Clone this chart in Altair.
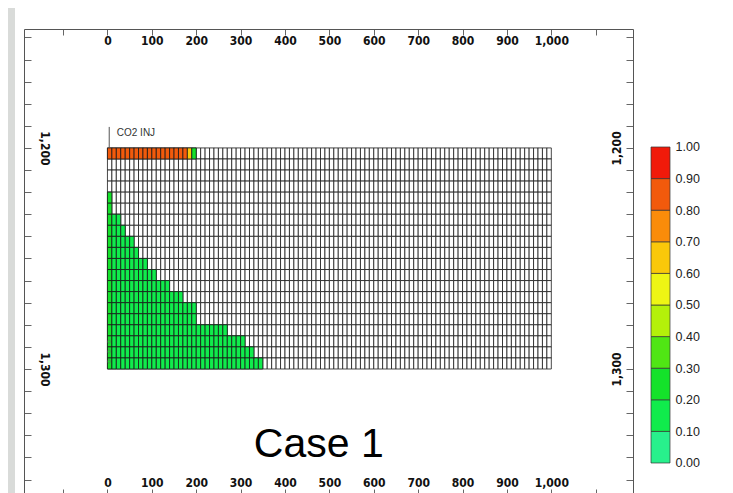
import altair as alt
import pandas as pd

# ---------------- data ----------------
# grid: 100 columns x 20 layers, 10 m wide and 5 m thick, top at 1200 m
col_width = 10
n_cols = 100
layer_thickness = 5
n_rows = 20
top_depth = 1200

# saturation classes of the colour bar (low -> high)
bin_lows = [0.0, 0.1, 0.2, 0.3, 0.4, 0.5, 0.6, 0.7, 0.8, 0.9]
bin_highs = [0.1, 0.2, 0.3, 0.4, 0.5, 0.6, 0.7, 0.8, 0.9, 1.0]
bin_colors = ["#28f08c", "#10ec4c", "#14e22a", "#50e614", "#b4f00a",
              "#eef514", "#fac80a", "#fa8c0a", "#f25a0c", "#f01a0a"]
legend_labels = [0.0, 0.1, 0.2, 0.3, 0.4, 0.5, 0.6, 0.7, 0.8, 0.9, 1.0]

# top layer (CO2 injection layer): value of the first 20 cells
top_layer_values = [0.85, 0.85, 0.85, 0.85, 0.85, 0.85, 0.85, 0.85, 0.85, 0.85,
                    0.85, 0.85, 0.85, 0.85, 0.85, 0.85, 0.85, 0.85, 0.65, 0.25]
# number of coloured (green) cells from the left in each layer (layer 0 = top)
green_cells_per_layer = [0, 0, 0, 0, 1, 1, 3, 4, 6, 7,
                         9, 11, 14, 17, 20, 20, 27, 31, 33, 35]
green_value = 0.15
edge_value = 0.25      # first column is a slightly darker green

# annotations
well_x = 4
well_top = 1190.5
well_label = "CO2 INJ"
perf_depths = [1287.6, 1292.1, 1296.6]
case_label = "Case 1"

x_ticks = list(range(-100, 1101, 100))
y_ticks = list(range(1150, 1351, 10))

# ---------------- tables ----------------
cells = []
for r in range(n_rows):
    for c in range(n_cols):
        cells.append({"x0": c * col_width, "x1": (c + 1) * col_width,
                      "z0": top_depth + r * layer_thickness,
                      "z1": top_depth + (r + 1) * layer_thickness})
cells_df = pd.DataFrame(cells)

colored = []
for c, v in enumerate(top_layer_values):
    colored.append({"x0": c * col_width, "x1": (c + 1) * col_width,
                    "z0": top_depth, "z1": top_depth + layer_thickness, "sat": v})
for r, n in enumerate(green_cells_per_layer):
    if r == 0:
        continue
    for c in range(n):
        colored.append({"x0": c * col_width, "x1": (c + 1) * col_width,
                        "z0": top_depth + r * layer_thickness,
                        "z1": top_depth + (r + 1) * layer_thickness,
                        "sat": edge_value if c == 0 else green_value})
colored_df = pd.DataFrame(colored)

legend_df = pd.DataFrame({"lo": bin_lows, "hi": bin_highs, "color": bin_colors})

# ---------------- scales / axes ----------------
W, H = 609, 466
xs = alt.Scale(domain=[-188, 1184], nice=False, zero=False)
ys = alt.Scale(domain=[1146.2, 1357], reverse=True, nice=False, zero=False)
cs = alt.Scale(type="threshold", domain=bin_lows[1:], range=bin_colors)

LAB_FONT = "Liberation Sans Narrow, Arial Narrow, DejaVu Sans Condensed, sans-serif"
common = dict(grid=False, title=None, tickColor="#666", domainColor="#555",
              labelFont=LAB_FONT, labelFontSize=12, labelFontWeight="bold",
              labelColor="#111", labelOverlap=False, labelFlush=False,
              tickWidth=1, domainWidth=1)

x_lab = "datum.value >= 0 && datum.value <= 1000 ? format(datum.value, ',') : ''"
y_lab = "(datum.value == 1200 || datum.value == 1300) ? format(datum.value, ',') : ''"

top_axis = alt.Axis(orient="bottom", offset=-H, values=x_ticks, labelExpr=x_lab,
                    tickSize=6, labelPadding=0, **common)
bottom_axis = alt.Axis(orient="top", offset=-H, values=x_ticks, labelExpr=x_lab,
                       tickSize=6, labelPadding=0, **common)
left_axis = alt.Axis(orient="right", offset=-W, values=y_ticks, labelExpr=y_lab,
                     labelAngle=90, labelAlign="center", labelBaseline="bottom",
                     tickSize=7, labelPadding=6, **common)
right_axis = alt.Axis(orient="left", offset=-W, values=y_ticks, labelExpr=y_lab,
                      labelAngle=270, labelAlign="center", labelBaseline="bottom",
                      tickSize=7, labelPadding=3, **common)

# ---------------- layers ----------------
strip = alt.Chart(pd.DataFrame({"a": [0]})).mark_rect(color="#d9dbd9").encode(
    x=alt.value(-16), x2=alt.value(-9), y=alt.value(-21), y2=alt.value(480))

grid_layer = alt.Chart(cells_df).mark_rect(
    fill="white", stroke="#1a1a1a", strokeWidth=0.8).encode(
    x=alt.X("x0:Q", scale=xs, axis=top_axis), x2="x1:Q",
    y=alt.Y("z0:Q", scale=ys, axis=left_axis), y2="z1:Q")

color_layer = alt.Chart(colored_df).mark_rect(
    stroke="#1a1a1a", strokeWidth=0.8).encode(
    x=alt.X("x0:Q", scale=xs, axis=bottom_axis), x2="x1:Q",
    y=alt.Y("z0:Q", scale=ys, axis=right_axis), y2="z1:Q",
    fill=alt.Fill("sat:Q", scale=cs, legend=None))

well = alt.Chart(pd.DataFrame({"x": [well_x], "z0": [well_top], "z1": [top_depth]})).mark_rule(
    color="#555", strokeWidth=1).encode(
    x=alt.X("x:Q", scale=xs, axis=None),
    y=alt.Y("z0:Q", scale=ys, axis=None), y2="z1:Q")

well_text = alt.Chart(pd.DataFrame({"x": [21], "z": [1193.2], "t": [well_label]})).mark_text(
    align="left", baseline="middle", font="Liberation Sans, Arial, sans-serif",
    fontSize=10, color="#333").encode(
    x=alt.X("x:Q", scale=xs, axis=None), y=alt.Y("z:Q", scale=ys, axis=None), text="t:N")

perfs = alt.Chart(pd.DataFrame({"x": [3.4] * len(perf_depths), "z": perf_depths})).mark_point(
    shape="circle", size=9, filled=False, color="#666", strokeWidth=0.8).encode(
    x=alt.X("x:Q", scale=xs, axis=None), y=alt.Y("z:Q", scale=ys, axis=None))

case_text = alt.Chart(pd.DataFrame({"x": [476], "z": [1339.8], "t": [case_label]})).mark_text(
    align="center", baseline="alphabetic", font="Liberation Sans, Arial, sans-serif",
    fontSize=41, color="#000").encode(
    x=alt.X("x:Q", scale=xs, axis=None), y=alt.Y("z:Q", scale=ys, axis=None), text="t:N")

main = alt.layer(strip, grid_layer, color_layer, well, well_text, perfs, case_text).resolve_axis(
    x="independent", y="independent").properties(width=W, height=H)

legend = alt.Chart(legend_df).mark_rect(stroke="#333", strokeWidth=0.7).encode(
    x=alt.value(0), x2=alt.value(19),
    y=alt.Y("lo:Q", scale=alt.Scale(domain=[-0.1013, 1.3734], nice=False, zero=False),
            axis=alt.Axis(orient="right", values=legend_labels, format=".2f", ticks=False,
                          domain=False, grid=False, title=None, labelPadding=5,
                          labelFont="Liberation Sans, Arial, sans-serif", labelFontSize=12.5,
                          labelColor="#222", labelOverlap=False, labelFlush=False)),
    y2="hi:Q",
    fill=alt.Fill("color:N", scale=None)).properties(width=19, height=H)

chart = alt.hconcat(main, legend, spacing=18, bounds="flush").configure_view(
    stroke=None).properties(padding=0, background="white")

chart.save("out.html", embed_options={"renderer": "svg", "actions": False})
